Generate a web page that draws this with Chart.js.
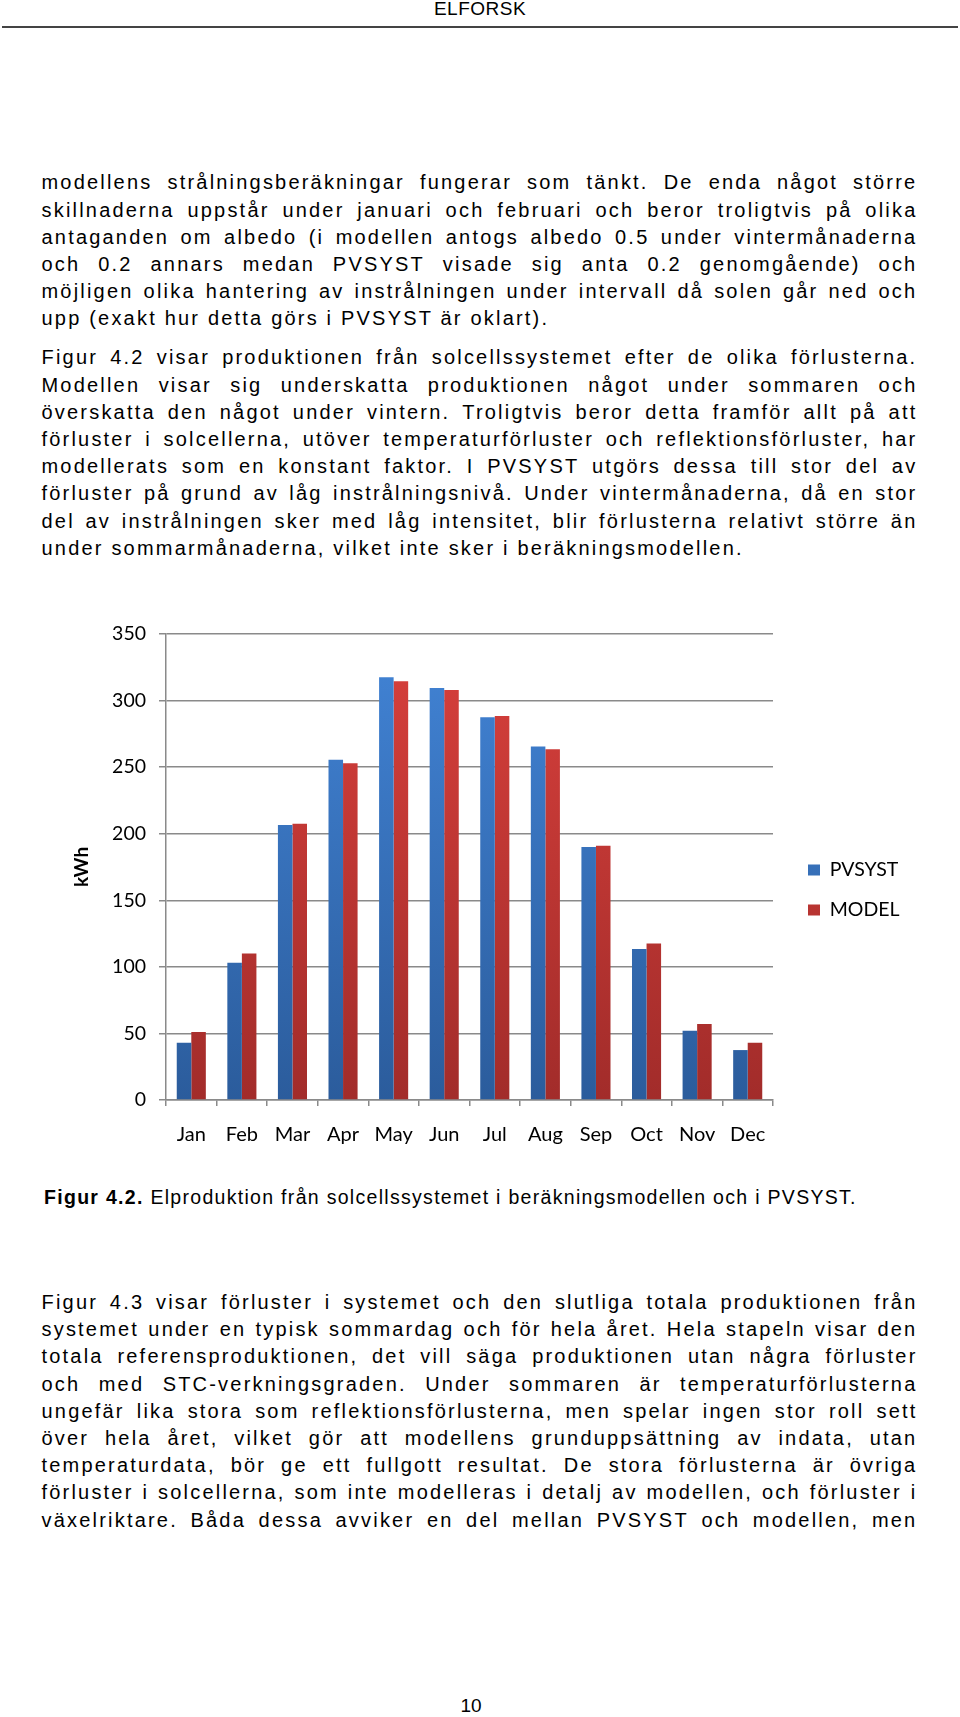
<!DOCTYPE html>
<html>
<head>
<meta charset="utf-8">
<script src="https://cdn.jsdelivr.net/npm/chart.js@4"></script>
<style>
  html, body { margin: 0; padding: 0; background: #fff; }
  body { position: relative; width: 960px; height: 1717px; font-family: "Liberation Sans", Arial, sans-serif; color: #000; }
  .head { position: absolute; left: 0; width: 960px; top: -2px; text-align: center; font-size: 19px; line-height: 22px; letter-spacing: 0.5px; }
  .rule { position: absolute; left: 2px; width: 956px; top: 26px; height: 2px; background: #444; }
  .para { position: absolute; left: 41.5px; width: 876px; font-size: 20px; line-height: 27.2px; letter-spacing: 2.2px; }
  .line { display: flex; justify-content: space-between; white-space: pre; }
  .line.last { justify-content: flex-start; }
  .cap { position: absolute; left: 44px; top: 1184px; font-size: 19.5px; line-height: 27.2px; letter-spacing: 1.3px; white-space: pre; }
  .pnum { position: absolute; left: 441px; width: 60px; top: 1693px; text-align: center; font-size: 19px; line-height: 26px; }
  #wrap { position: absolute; left: 0; top: 600px; width: 960px; height: 560px; }
</style>
</head>
<body>
<div class="head">ELFORSK</div>
<div class="rule"></div>
<div class="para" id="p1" style="top:169.4px"></div>
<div class="para" id="p2" style="top:344.4px"></div>
<div id="wrap"><canvas id="kwhChart"></canvas></div>
<div class="cap"><b>Figur 4.2.</b> Elproduktion från solcellssystemet i beräkningsmodellen och i PVSYST.</div>
<div class="para" id="p3" style="top:1288.9px"></div>
<div class="pnum">10</div>

<script>
// data (kWh per month)
const months = ['Jan', 'Feb', 'Mar', 'Apr', 'May', 'Jun', 'Jul', 'Aug', 'Sep', 'Oct', 'Nov', 'Dec'];
const pvsyst = [43, 103, 206.5, 255.5, 317.5, 309.5, 287.5, 265.5, 190, 113.5, 52, 37.5];
const model = [51, 110, 207.5, 253, 314.5, 308, 288.5, 263.5, 191, 117.5, 57, 43];
const seriesNames = ['PVSYST', 'MODEL'];
const yMin = 0, yMax = 350, yStep = 50;

// body text, one entry per printed line
const para1 = [
    'modellens strålningsberäkningar fungerar som tänkt. De enda något större',
    'skillnaderna uppstår under januari och februari och beror troligtvis på olika',
    'antaganden om albedo (i modellen antogs albedo 0.5 under vintermånaderna',
    'och 0.2 annars medan PVSYST visade sig anta 0.2 genomgående) och',
    'möjligen olika hantering av instrålningen under intervall då solen går ned och',
    'upp (exakt hur detta görs i PVSYST är oklart).'
];
const para2 = [
    'Figur 4.2 visar produktionen från solcellssystemet efter de olika förlusterna.',
    'Modellen visar sig underskatta produktionen något under sommaren och',
    'överskatta den något under vintern. Troligtvis beror detta framför allt på att',
    'förluster i solcellerna, utöver temperaturförluster och reflektionsförluster, har',
    'modellerats som en konstant faktor. I PVSYST utgörs dessa till stor del av',
    'förluster på grund av låg instrålningsnivå. Under vintermånaderna, då en stor',
    'del av instrålningen sker med låg intensitet, blir förlusterna relativt större än',
    'under sommarmånaderna, vilket inte sker i beräkningsmodellen.'
];
const para3 = [
    'Figur 4.3 visar förluster i systemet och den slutliga totala produktionen från',
    'systemet under en typisk sommardag och för hela året. Hela stapeln visar den',
    'totala referensproduktionen, det vill säga produktionen utan några förluster',
    'och med STC-verkningsgraden. Under sommaren är temperaturförlusterna',
    'ungefär lika stora som reflektionsförlusterna, men spelar ingen stor roll sett',
    'över hela året, vilket gör att modellens grunduppsättning av indata, utan',
    'temperaturdata, bör ge ett fullgott resultat. De stora förlusterna är övriga',
    'förluster i solcellerna, som inte modelleras i detalj av modellen, och förluster i',
    'växelriktare. Båda dessa avviker en del mellan PVSYST och modellen, men'
];

// lay out justified lines (lastOpen = last line is left aligned)
function fillPara(id, lines, lastOpen) {
    const box = document.getElementById(id);
    lines.forEach((txt, i) => {
        const row = document.createElement('div');
        row.className = 'line';
        if (lastOpen && i === lines.length - 1) {
            row.classList.add('last');
            row.textContent = txt;
        } else {
            txt.split(' ').forEach(w => {
                const s = document.createElement('span');
                s.textContent = w;
                row.appendChild(s);
            });
        }
        box.appendChild(row);
    });
}
fillPara('p1', para1, true);
fillPara('p2', para2, true);
fillPara('p3', para3, false);

// vertical shading of the bars, like the Excel original
function barFill(top, bottom) {
    return function (ctx) {
        const area = ctx.chart.chartArea;
        if (!area) return bottom;
        const g = ctx.chart.ctx.createLinearGradient(0, area.top, 0, area.bottom);
        g.addColorStop(0, top);
        g.addColorStop(1, bottom);
        return g;
    };
}

// legend sizes -> right padding so the plot ends at x=773
const legFont = 19.5, legBox = 12, legPad = 20.5;
const mctx = document.createElement('canvas').getContext('2d');
mctx.font = legFont + 'px Lato';
const widest = Math.max(...seriesNames.map(t => mctx.measureText(t).width));
const legWidth = legPad + legBox + legFont / 2 + widest + 10;
const padRight = 960 - 773 - legWidth;

// put the legend where Excel had it (centred on plot + month labels)
const legendSpot = {
    id: 'legendSpot',
    afterLayout(chart) {
        const lg = chart.legend;
        const a = chart.chartArea;
        lg.left = a.right + 14.5;
        lg.right = lg.left + lg.width;
        lg.top = a.top;
        lg.bottom = a.top + 512;
    }
};

const gridGrey = '#8a8a8a';
Chart.defaults.color = '#000';
Chart.defaults.font.family = 'Lato, "Open Sans", sans-serif';

new Chart(document.getElementById('kwhChart'), {
    type: 'bar',
    data: {
        labels: months,
        datasets: [
            {
                label: seriesNames[0],
                data: pvsyst,
                backgroundColor: barFill('#4284d6', '#2b5c9c'),
                borderWidth: 0
            },
            {
                label: seriesNames[1],
                data: model,
                backgroundColor: barFill('#d8403c', '#a22c2a'),
                borderWidth: 0
            }
        ]
    },
    options: {
        responsive: true,
        maintainAspectRatio: false,
        animation: false,
        devicePixelRatio: 1,
        layout: { padding: { left: 60, right: padRight, top: 34, bottom: 10 } },
        datasets: {
            bar: { categoryPercentage: 0.575, barPercentage: 1.0 }
        },
        plugins: {
            tooltip: { enabled: false },
            legend: {
                position: 'right',
                labels: {
                    boxWidth: legBox,
                    boxHeight: 11,
                    padding: legPad,
                    font: { size: legFont },
                    color: '#000'
                }
            }
        },
        scales: {
            x: {
                afterFit(scale) { scale.height = 50; },
                grid: {
                    drawOnChartArea: false,
                    drawTicks: true,
                    tickLength: 6,
                    color: gridGrey,
                    lineWidth: 1.5
                },
                border: { display: true, color: gridGrey, width: 1.5 },
                ticks: { font: { size: 20 }, padding: 17, maxRotation: 0, autoSkip: false }
            },
            y: {
                min: yMin,
                max: yMax,
                afterFit(scale) { scale.width = 106; },
                grid: {
                    color: gridGrey,
                    lineWidth: 1.5,
                    tickLength: 7
                },
                border: { display: true, color: gridGrey, width: 1.5 },
                ticks: { stepSize: yStep, font: { size: 19.5 }, padding: 13 },
                title: {
                    display: true,
                    text: 'kWh',
                    font: { size: 19, weight: 'bold' },
                    padding: { top: 10.6, bottom: 0 }
                }
            }
        }
    },
    plugins: [legendSpot]
});
</script>
</body>
</html>
